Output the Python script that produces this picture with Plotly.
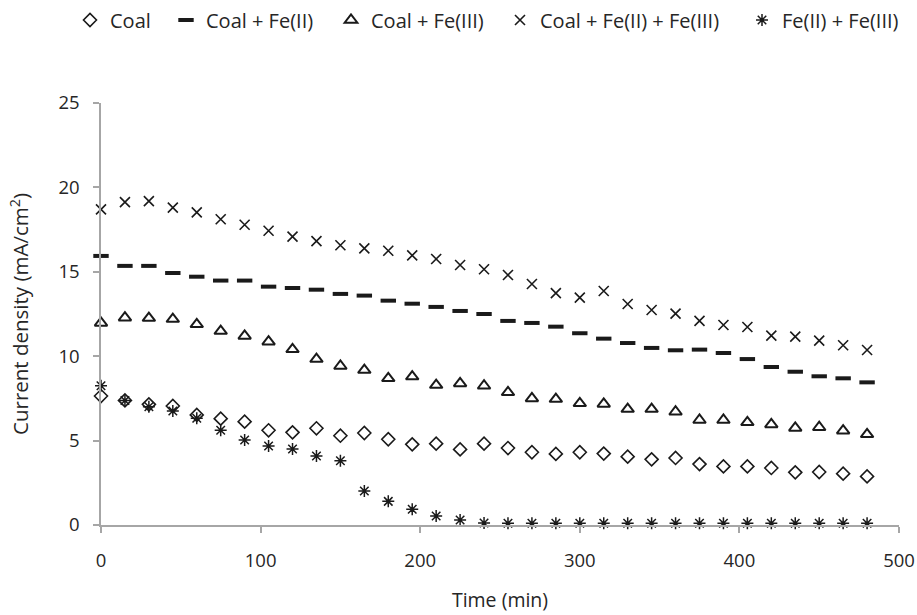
import plotly.graph_objects as go

time_min = [0, 15, 30, 45, 60, 75, 90, 105, 120, 135, 150, 165, 180, 195, 210, 225,
            240, 255, 270, 285, 300, 315, 330, 345, 360, 375, 390, 405, 420, 435, 450, 465, 480]

coal = [7.64, 7.38, 7.15, 7.05, 6.52, 6.30, 6.12, 5.61, 5.49, 5.73, 5.29, 5.45, 5.08,
        4.78, 4.82, 4.48, 4.82, 4.56, 4.31, 4.21, 4.31, 4.23, 4.05, 3.89, 3.97,
        3.61, 3.47, 3.47, 3.38, 3.12, 3.14, 3.04, 2.88]

coal_fe2 = [15.94, 15.35, 15.35, 14.93, 14.71, 14.48, 14.48, 14.12, 14.04, 13.94, 13.69, 13.59, 13.29,
            13.11, 12.92, 12.68, 12.50, 12.09, 11.97, 11.75, 11.36, 11.04, 10.78, 10.49, 10.35,
            10.39, 10.19, 9.83, 9.36, 9.08, 8.81, 8.69, 8.45]

coal_fe3 = [11.97, 12.28, 12.26, 12.20, 11.89, 11.49, 11.20, 10.86, 10.41, 9.83, 9.42, 9.18, 8.69,
            8.79, 8.29, 8.39, 8.25, 7.86, 7.50, 7.46, 7.21, 7.17, 6.87, 6.87, 6.71,
            6.22, 6.22, 6.08, 5.96, 5.75, 5.79, 5.59, 5.37]

coal_fe2_fe3 = [18.70, 19.13, 19.19, 18.80, 18.52, 18.11, 17.79, 17.43, 17.08, 16.82, 16.57, 16.39, 16.25,
                15.97, 15.76, 15.40, 15.15, 14.81, 14.28, 13.74, 13.47, 13.86, 13.09, 12.74, 12.52,
                12.09, 11.85, 11.73, 11.22, 11.16, 10.92, 10.65, 10.37]

fe2_fe3 = [8.25, 7.38, 7.01, 6.75, 6.32, 5.61, 5.04, 4.68, 4.50, 4.09, 3.81, 2.01, 1.40,
           0.93, 0.53, 0.30, 0.12, 0.10, 0.10, 0.10, 0.10, 0.10, 0.10, 0.10, 0.10,
           0.10, 0.10, 0.10, 0.10, 0.10, 0.10, 0.10, 0.10]

names = ["Coal", "Coal + Fe(II)", "Coal + Fe(III)", "Coal + Fe(II) + Fe(III)", "Fe(II) + Fe(III)"]
series = [coal, coal_fe2, coal_fe3, coal_fe2_fe3, fe2_fe3]
symbols = ["diamond-open", "line-ew-open", "triangle-up-open", "x-thin-open", "asterisk-open"]
sizes = [10, 11, 11, 10, 10]
widths = [1.6, 4, 2, 1.6, 1.5]
legend_ids = ["legend", "legend2", "legend3", "legend4", "legend5"]
legend_text_px = [108, 204, 369, 538, 780]

FONT = "Open Sans"
TXT = "#262626"
AX = "#a6a6a6"
ML, MR, MT, MB = 101, 18, 103, 90
W, H = 917, 615
PW = W - ML - MR
PH = H - MT - MB

fig = go.Figure()
for name, ys, sym, sz, lw, lid in zip(names, series, symbols, sizes, widths, legend_ids):
    fig.add_trace(go.Scatter(
        x=time_min, y=ys, mode="markers", name=name, legend=lid,
        cliponaxis=False,
        marker=dict(symbol=sym, size=sz, color="#1a1a1a",
                    line=dict(color="#1a1a1a", width=lw)),
    ))

layout_legends = {}
for lid, tx in zip(legend_ids, legend_text_px):
    layout_legends[lid] = dict(
        x=(tx - 38 - ML) / PW, xanchor="left",
        y=1 + (MT - 20) / PH, yanchor="middle",
        orientation="h", bgcolor="rgba(0,0,0,0)",
        font=dict(family=FONT, size=20, color=TXT),
        itemwidth=30,
    )

fig.update_layout(
    width=W, height=H,
    margin=dict(l=ML, r=MR, t=MT, b=MB, autoexpand=False),
    paper_bgcolor="white", plot_bgcolor="white",
    font=dict(family=FONT, size=18, color=TXT),
    showlegend=True,
    **layout_legends,
)

fig.update_xaxes(
    range=[0, 500], tickvals=[0, 100, 200, 300, 400, 500],
    showgrid=False, zeroline=False, automargin=False,
    showline=True, linecolor=AX, linewidth=1.5,
    ticks="outside", ticklen=6, tickcolor=AX, tickwidth=1.5,
    ticklabelstandoff=12,
    tickfont=dict(family=FONT, size=18.5, color=TXT),
    title=dict(text="Time (min)", font=dict(family=FONT, size=19.5, color=TXT), standoff=22),
)
fig.update_yaxes(
    range=[0, 25], tickvals=[0, 5, 10, 15, 20, 25],
    showgrid=False, zeroline=False, automargin=False,
    showline=True, linecolor=AX, linewidth=1.5,
    ticks="outside", ticklen=6, tickcolor=AX, tickwidth=1.5,
    ticklabelstandoff=10,
    tickfont=dict(family=FONT, size=18.5, color=TXT),
    title=dict(text="Current density (mA/cm<sup>2</sup>)",
               font=dict(family=FONT, size=20.5, color=TXT), standoff=24),
)

fig.write_html("out.html", config={"displayModeBar": False},
               post_script="document.body.style.margin='0px';")
